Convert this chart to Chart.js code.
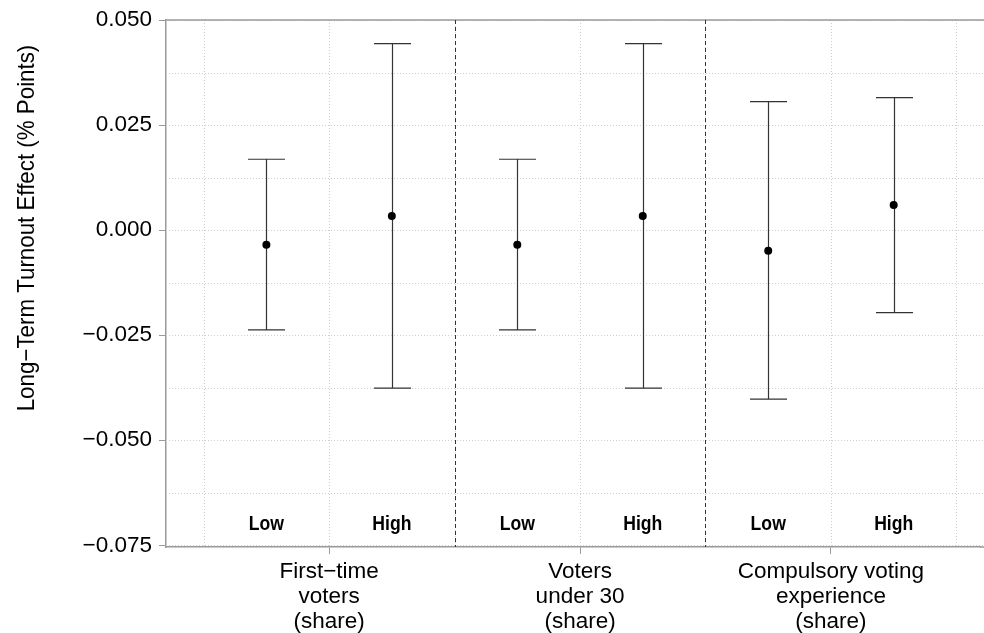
<!DOCTYPE html>
<html>
<head>
<meta charset="utf-8">
<script src="https://cdn.jsdelivr.net/npm/chart.js@4/dist/chart.umd.min.js"></script>
<style>
  html,body{margin:0;padding:0;background:#fff;}
  #wrap{width:984px;height:633px;position:relative;}
</style>
</head>
<body>
<div id="wrap"><canvas id="c"></canvas></div>
<script>
// data
const groups = [
  ['First\u2212time','voters','(share)'],
  ['Voters','under 30','(share)'],
  ['Compulsory voting','experience','(share)']
];
const levels = ['Low','High'];
const estimate = [-0.00345, 0.00338, -0.00345, 0.00338, -0.00488, 0.00599];
const lower    = [-0.02374, -0.03761, -0.02374, -0.03761, -0.04023, -0.01962];
const upper    = [ 0.01687,  0.04436,  0.01687,  0.04436,  0.03057,  0.03152];
const yTicks   = [-0.075,-0.0625,-0.05,-0.0375,-0.025,-0.0125,0,0.0125,0.025,0.0375,0.05];
const yLabeled = [-0.075,-0.05,-0.025,0,0.025,0.05];
const xTicks   = [0.5,1,1.5,2,2.5,3,3.5];
const separators = [1.5,2.5];
const levelLabelY = -0.07;

const FONT = '"Liberation Sans", Arial, Helvetica, sans-serif';
const AXIS = '#9a9a9a';
const INK = '#333333';

// x position of each estimate: group centre -/+ 0.25
const xPos = [];
groups.forEach((g,gi)=>levels.forEach((l,li)=>xPos.push(gi + 1 + (li === 0 ? -0.25 : 0.25))));
const points = estimate.map((v,i)=>({x:xPos[i], y:v}));

const fmt = v => {
  const s = Math.abs(v) < 1e-9 ? '0.000' : v.toFixed(3);
  return s.replace('-','\u2212');
};
const isLabeledY = v => yLabeled.some(t=>Math.abs(t - v) < 1e-9);
const isGroupX = v => Math.abs(v - Math.round(v)) < 1e-9 && v >= 1 && v <= groups.length;

const backdrop = {
  id:'backdrop',
  beforeDatasetsDraw(chart){
    const {ctx, chartArea:a, scales:{x,y}} = chart;
    ctx.save();
    // dotted grid
    ctx.strokeStyle = '#cfcfcf';
    ctx.lineWidth = 1;
    ctx.setLineDash([1,2]);
    yTicks.forEach(v=>{
      const py = Math.round(y.getPixelForValue(v)) + 0.5;
      ctx.beginPath(); ctx.moveTo(a.left, py); ctx.lineTo(chart.width, py); ctx.stroke();
    });
    xTicks.forEach(v=>{
      const px = Math.round(x.getPixelForValue(v)) + 0.5;
      ctx.beginPath(); ctx.moveTo(px, a.top); ctx.lineTo(px, a.bottom); ctx.stroke();
    });
    // top frame line
    ctx.setLineDash([]);
    ctx.strokeStyle = AXIS;
    ctx.lineWidth = 1.5;
    ctx.beginPath(); ctx.moveTo(a.left, a.top); ctx.lineTo(chart.width, a.top); ctx.stroke();
    // group separators
    ctx.strokeStyle = INK;
    ctx.lineWidth = 1;
    ctx.setLineDash([4,3]);
    separators.forEach(v=>{
      const px = Math.round(x.getPixelForValue(v)) + 0.5;
      ctx.beginPath(); ctx.moveTo(px, a.top); ctx.lineTo(px, a.bottom); ctx.stroke();
    });
    // error bars
    ctx.setLineDash([]);
    ctx.strokeStyle = INK;
    ctx.lineWidth = 1.2;
    const cap = 18.5;
    xPos.forEach((xv,i)=>{
      const px = Math.round(x.getPixelForValue(xv)) + 0.5;
      const lo = y.getPixelForValue(lower[i]);
      const hi = y.getPixelForValue(upper[i]);
      ctx.beginPath();
      ctx.moveTo(px, lo); ctx.lineTo(px, hi);
      ctx.moveTo(px - cap, hi); ctx.lineTo(px + cap, hi);
      ctx.moveTo(px - cap, lo); ctx.lineTo(px + cap, lo);
      ctx.stroke();
    });
    ctx.restore();
  },
  afterDatasetsDraw(chart){
    const {ctx, chartArea:a, scales:{x,y}} = chart;
    ctx.save();
    // extend the bottom axis line to the canvas edge
    ctx.strokeStyle = AXIS;
    ctx.lineWidth = 1.5;
    ctx.beginPath(); ctx.moveTo(a.right, a.bottom); ctx.lineTo(chart.width, a.bottom); ctx.stroke();
    // Low / High labels
    ctx.fillStyle = '#000';
    ctx.font = 'bold 20px ' + FONT;
    ctx.textAlign = 'center';
    ctx.textBaseline = 'middle';
    xPos.forEach((xv,i)=>{
      ctx.save();
      ctx.translate(x.getPixelForValue(xv), y.getPixelForValue(levelLabelY));
      ctx.scale(0.88,1);
      ctx.fillText(levels[i % levels.length], 0, 0);
      ctx.restore();
    });
    // y axis title
    ctx.save();
    ctx.translate(27, 228);
    ctx.rotate(-Math.PI/2);
    ctx.scale(0.93,1);
    ctx.font = '24px ' + FONT;
    ctx.fillStyle = '#000';
    ctx.fillText('Long\u2212Term Turnout Effect (% Points)', 0, 0);
    ctx.restore();
    ctx.restore();
  }
};

new Chart(document.getElementById('c'), {
  type:'scatter',
  data:{
    datasets:[{
      data: points,
      pointRadius:4,
      pointHoverRadius:4,
      pointBackgroundColor:'#000',
      pointBorderWidth:0,
      borderWidth:0
    }]
  },
  options:{
    responsive:true,
    maintainAspectRatio:false,
    animation:false,
    events:[],
    layout:{padding:{top:20,right:0,left:0,bottom:0}},
    plugins:{legend:{display:false}, tooltip:{enabled:false}},
    scales:{
      x:{
        type:'linear',
        min:0.35, max:3.594,
        afterBuildTicks: s => { s.ticks = xTicks.map(v=>({value:v})); },
        afterFit: s => { s.height = 86; s.paddingLeft = 0; s.paddingRight = 0; },
        border:{display:true, color:AXIS, width:1.5},
        grid:{
          drawOnChartArea:false, drawTicks:true, tickLength:7,
          tickColor: c => (c.tick && isGroupX(c.tick.value)) ? AXIS : 'rgba(0,0,0,0)'
        },
        ticks:{
          autoSkip:false, maxRotation:0, padding:5,
          color:'#000',
          font:{family:FONT, size:22.5, lineHeight:1.12},
          callback: v => isGroupX(v) ? groups[Math.round(v) - 1] : ''
        }
      },
      y:{
        type:'linear',
        min:-0.0754, max:0.05,
        afterBuildTicks: s => { s.ticks = yTicks.map(v=>({value:v})); },
        afterFit: s => { s.width = 166; s.paddingTop = 0; s.paddingBottom = 0; },
        border:{display:true, color:AXIS, width:1.5},
        grid:{
          drawOnChartArea:false, drawTicks:true, tickLength:7,
          tickColor: c => (c.tick && isLabeledY(c.tick.value)) ? AXIS : 'rgba(0,0,0,0)'
        },
        ticks:{
          autoSkip:false, padding:7,
          color:'#000',
          font:{family:FONT, size:22.5},
          callback: v => isLabeledY(v) ? fmt(v) : ''
        }
      }
    }
  },
  plugins:[backdrop]
});
</script>
</body>
</html>
